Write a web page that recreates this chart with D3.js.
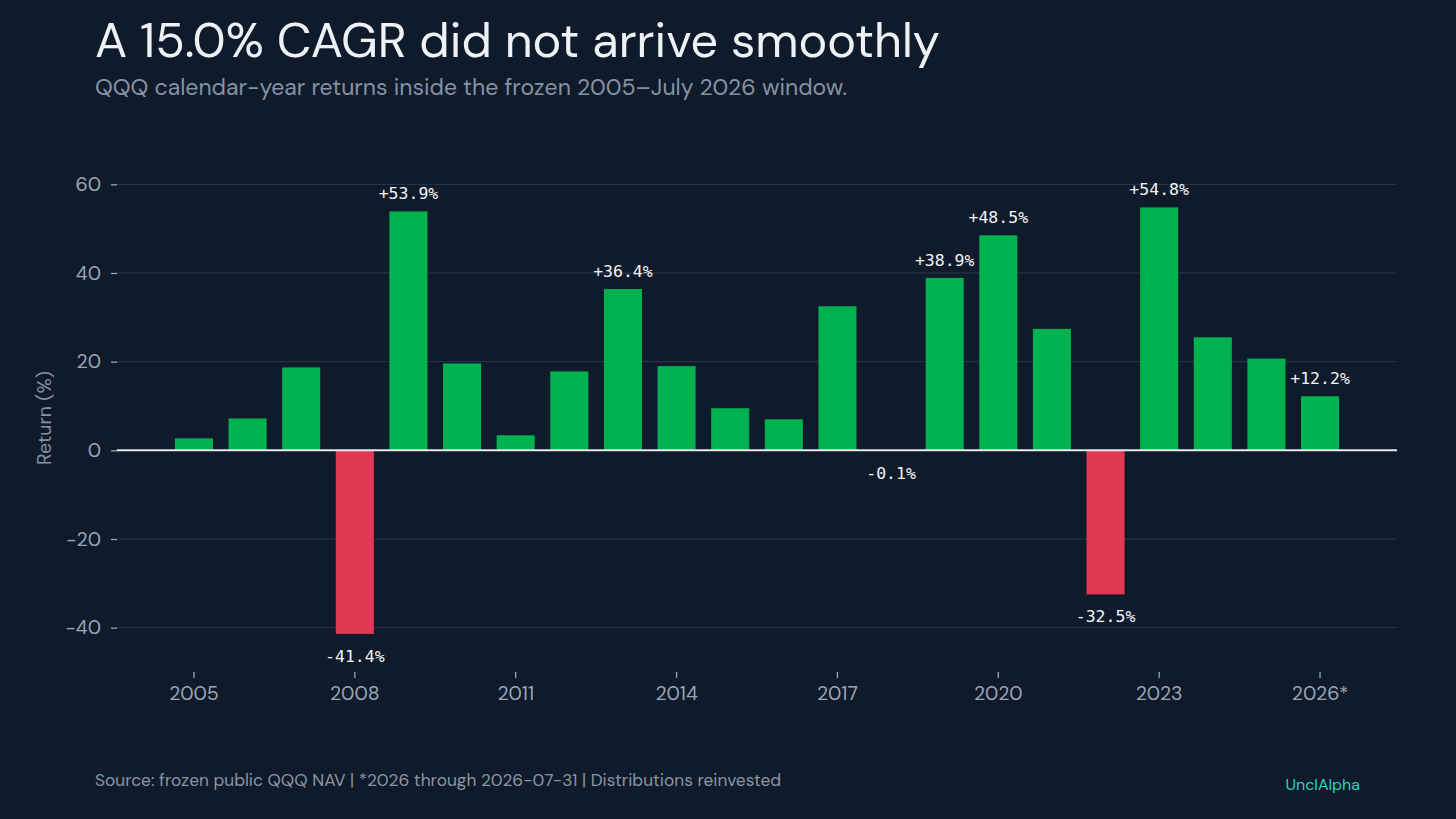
<!DOCTYPE html>
<html>
<head>
<meta charset="utf-8">
<script src="https://cdn.jsdelivr.net/npm/d3@7/dist/d3.min.js"></script>
<style>
  html, body { margin: 0; padding: 0; background: #0f1a2a; }
  svg { display: block; }
</style>
</head>
<body>
<svg id="chart" width="1456" height="819"></svg>
<script>
const years = [2005,2006,2007,2008,2009,2010,2011,2012,2013,2014,2015,2016,2017,2018,2019,2020,2021,2022,2023,2024,2025,2026];
const returns = [2.7,7.2,18.7,-41.4,53.9,19.6,3.4,17.8,36.4,19.0,9.5,7.0,32.5,-0.1,38.9,48.5,27.4,-32.5,54.8,25.5,20.7,12.2];
const labeledYears = [2008,2009,2013,2018,2019,2020,2022,2023,2026];
const yTicks = [-40,-20,0,20,40,60];
const xTickYears = [2005,2008,2011,2014,2017,2020,2023,2026];
const xTickLabels = ["2005","2008","2011","2014","2017","2020","2023","2026*"];

(function () {
const sans = "'DM Sans', Inter, 'Noto Sans', sans-serif";
const mono = "'DejaVu Sans Mono', 'Liberation Mono', monospace";

const svg = d3.select("#chart");
svg.append("rect").attr("width", 1456).attr("height", 819).attr("fill", "#0f1a2a");

const pLeft = 117, pRight = 1397, pTop = 162, pBottom = 672;

const x = d3.scaleBand().domain(years).range([pLeft, pRight]).paddingInner(0.29).paddingOuter(1.08);
const y = d3.scaleLinear().domain([-50, 65]).range([pBottom, pBottom - 115 * (266 / 60)]);

// gridlines
svg.append("g").selectAll("line").data(yTicks.filter(d => d !== 0)).join("line")
  .attr("x1", pLeft).attr("x2", pRight)
  .attr("y1", d => y(d)).attr("y2", d => y(d))
  .attr("stroke", "#2b3849").attr("stroke-width", 1);

// y axis
const yAxis = svg.append("g").attr("transform", `translate(${pLeft},0)`)
  .call(d3.axisLeft(y).tickValues(yTicks).tickSize(6).tickPadding(10).tickFormat(d => d));
yAxis.select(".domain").remove();
yAxis.selectAll("line").attr("stroke", "#9aa6b6").attr("stroke-width", 1.3);
yAxis.selectAll("text").attr("fill", "#9aa6b6").style("font-family", sans).style("font-size", "19.5px");

// bars
const data = years.map((yr, i) => ({ year: yr, value: returns[i] }));
svg.append("g").selectAll("rect").data(data).join("rect")
  .attr("x", d => x(d.year))
  .attr("width", x.bandwidth())
  .attr("y", d => Math.min(y(d.value), y(0)))
  .attr("height", d => Math.abs(y(d.value) - y(0)))
  .attr("fill", d => d.value >= 0 ? "#00b14f" : "#e03a52");

// zero line
svg.append("line").attr("x1", pLeft).attr("x2", pRight)
  .attr("y1", y(0)).attr("y2", y(0))
  .attr("stroke", "#e4e9ef").attr("stroke-width", 2);

// value labels
svg.append("g").selectAll("text").data(data.filter(d => labeledYears.includes(d.year))).join("text")
  .attr("x", d => x(d.year) + x.bandwidth() / 2)
  .attr("y", d => d.value >= 0 ? y(d.value) - 12 : y(d.value) + 28)
  .attr("text-anchor", "middle")
  .attr("fill", "#f2f5f8")
  .style("font-family", mono).style("font-size", "16.5px")
  .text(d => (d.value >= 0 ? "+" : "") + d.value.toFixed(1) + "%");

// x axis
const xAxis = svg.append("g").attr("transform", `translate(0,${pBottom})`)
  .call(d3.axisBottom(x).tickValues(xTickYears).tickSize(6).tickPadding(8)
    .tickFormat(d => xTickLabels[xTickYears.indexOf(d)]));
xAxis.select(".domain").remove();
xAxis.selectAll("line").attr("stroke", "#9aa6b6").attr("stroke-width", 1.3);
xAxis.selectAll("text").attr("fill", "#9aa6b6").style("font-family", sans).style("font-size", "19.5px");

// y axis title
svg.append("text")
  .attr("transform", `translate(51,${(pTop + pBottom) / 2 + 1}) rotate(-90)`)
  .attr("text-anchor", "middle")
  .attr("fill", "#8592a3")
  .style("font-family", sans).style("font-size", "19.5px")
  .text("Return (%)");

// titles
svg.append("text").attr("x", 95).attr("y", 57)
  .attr("fill", "#eef2f6").style("font-family", sans).style("font-size", "48.5px")
  .text("A 15.0% CAGR did not arrive smoothly");
svg.append("text").attr("x", 95).attr("y", 95)
  .attr("fill", "#8592a3").style("font-family", sans).style("font-size", "23px")
  .text("QQQ calendar-year returns inside the frozen 2005\u2013July 2026 window.");

// footer
svg.append("text").attr("x", 95).attr("y", 786)
  .attr("fill", "#8a95a5").style("font-family", sans).style("font-size", "17.3px")
  .text("Source: frozen public QQQ NAV | *2026 through 2026-07-31 | Distributions reinvested");
svg.append("text").attr("x", 1360).attr("y", 790).attr("text-anchor", "end")
  .attr("fill", "#2dd4bf").style("font-family", sans).style("font-size", "16px")
  .text("UnclAlpha");
})();
</script>
</body>
</html>
